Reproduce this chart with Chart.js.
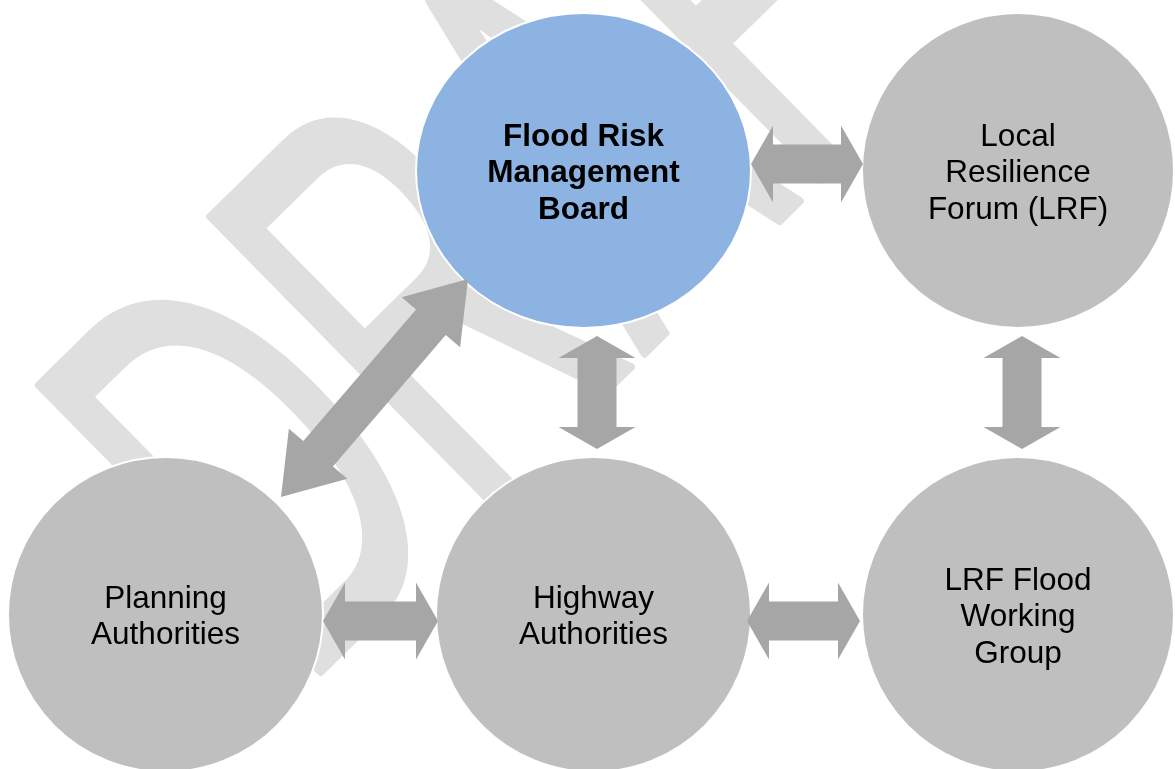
<!DOCTYPE html>
<html>
<head>
<meta charset="utf-8">
<script src="https://cdn.jsdelivr.net/npm/chart.js@4.4.0/dist/chart.umd.min.js"></script>
<style>
    html, body { margin: 0; padding: 0; background: #fff; }
    #wrap { width: 1175px; height: 769px; }
</style>
</head>
<body>
<div id="wrap"><canvas id="myChart"></canvas></div>
<script>
// nodes of the diagram (centre + radii in diagram units)
const nodeLabels = ['Flood Risk\nManagement\nBoard', 'Local\nResilience\nForum (LRF)', 'Planning\nAuthorities', 'Highway\nAuthorities', 'LRF Flood\nWorking\nGroup']
const nodeX = [583.5, 1018, 165.5, 593.5, 1018]
const nodeY = [170.5, 170.5, 614.5, 614.5, 614.5]
const nodeRX = [167.5, 156, 157.5, 157.5, 156]
const nodeRY = [157.5, 157.5, 157.5, 157.5, 157.5]

// two-way links (end points in diagram units)
const linkX1 = [751, 597, 1022, 323, 747, 281]
const linkY1 = [164, 336, 336, 621, 621, 497]
const linkX2 = [863, 597, 1022, 438, 860, 468]
const linkY2 = [164, 449, 449, 621, 621, 279]

// styles
const nodeColors = ['#8db3e2', '#bfbfbf', '#bfbfbf', '#bfbfbf', '#bfbfbf']
const nodeBold = [true, false, false, false, false]
const headLen = [22, 22, 22, 22, 22, 57]
const headHalf = 38.5
const shaftHalf = 19.5
const arrowColor = '#a6a6a6'
const lineHeight = 36.5

const ctx = document.getElementById('myChart');

const diagram = {
    id: 'diagram',
    beforeDatasetsDraw(chart) {
        const c = chart.ctx
        const {x, y} = chart.scales

        c.save()
        c.fillStyle = '#fff'
        c.fillRect(0, 0, chart.width, chart.height)

        // DRAFT watermark
        c.save()
        c.translate(300, 692)
        c.rotate(-44.5 * Math.PI / 180)
        c.scale(0.57, 1)
        c.font = '584px "Liberation Sans"'
        c.fillStyle = '#dfdfdf'
        c.strokeStyle = '#dfdfdf'
        c.lineJoin = 'round'
        c.lineWidth = 8
        c.fillText('DRAFT', 0, 0)
        c.strokeText('DRAFT', 0, 0)
        c.restore()

        // circles
        const meta = chart.getDatasetMeta(0)
        meta.data.forEach((pt, i) => {
            const rx = Math.abs(x.getPixelForValue(nodeX[i] + nodeRX[i]) - pt.x)
            const ry = Math.abs(y.getPixelForValue(nodeY[i] + nodeRY[i]) - pt.y)
            c.beginPath()
            c.ellipse(pt.x, pt.y, rx, ry, 0, 0, Math.PI * 2)
            c.fillStyle = nodeColors[i]
            c.fill()
            c.lineWidth = 2
            c.strokeStyle = '#fff'
            c.stroke()
        })

        // arrows
        c.fillStyle = arrowColor
        for (let i = 0; i < linkX1.length; i++) {
            const x1 = x.getPixelForValue(linkX1[i]), y1 = y.getPixelForValue(linkY1[i])
            const x2 = x.getPixelForValue(linkX2[i]), y2 = y.getPixelForValue(linkY2[i])
            const len = Math.hypot(x2 - x1, y2 - y1)
            const dx = (x2 - x1) / len, dy = (y2 - y1) / len
            const nx = -dy, ny = dx
            const hl = headLen[i]
            const bx1 = x1 + dx * hl, by1 = y1 + dy * hl
            const bx2 = x2 - dx * hl, by2 = y2 - dy * hl
            c.beginPath()
            c.moveTo(x1, y1)
            c.lineTo(bx1 + nx * headHalf, by1 + ny * headHalf)
            c.lineTo(bx1 + nx * shaftHalf, by1 + ny * shaftHalf)
            c.lineTo(bx2 + nx * shaftHalf, by2 + ny * shaftHalf)
            c.lineTo(bx2 + nx * headHalf, by2 + ny * headHalf)
            c.lineTo(x2, y2)
            c.lineTo(bx2 - nx * headHalf, by2 - ny * headHalf)
            c.lineTo(bx2 - nx * shaftHalf, by2 - ny * shaftHalf)
            c.lineTo(bx1 - nx * shaftHalf, by1 - ny * shaftHalf)
            c.lineTo(bx1 - nx * headHalf, by1 - ny * headHalf)
            c.closePath()
            c.fill()
        }

        // labels
        c.fillStyle = '#000'
        c.textAlign = 'center'
        c.textBaseline = 'alphabetic'
        meta.data.forEach((pt, i) => {
            const lines = nodeLabels[i].split('\n')
            c.font = (nodeBold[i] ? 'bold ' : '') + '31.5px "Liberation Sans", Arial, sans-serif'
            const first = pt.y + 11.5 - (lines.length - 1) * lineHeight / 2
            lines.forEach((line, k) => c.fillText(line, pt.x, first + k * lineHeight))
        })
        c.restore()
    }
}

new Chart(ctx, {
    type: 'scatter',
    data: {
        datasets: [{
            data: nodeX.map((v, i) => ({x: v, y: nodeY[i]})),
            pointRadius: 0,
            pointHoverRadius: 0
        }]
    },
    options: {
        responsive: true,
        maintainAspectRatio: false,
        animation: false,
        layout: { padding: 0 },
        plugins: { legend: { display: false }, tooltip: { enabled: false } },
        events: [],
        scales: {
            x: { type: 'linear', min: 0, max: 1175, display: false },
            y: { type: 'linear', min: 0, max: 769, reverse: true, display: false }
        }
    },
    plugins: [diagram]
});
</script>
</body>
</html>
